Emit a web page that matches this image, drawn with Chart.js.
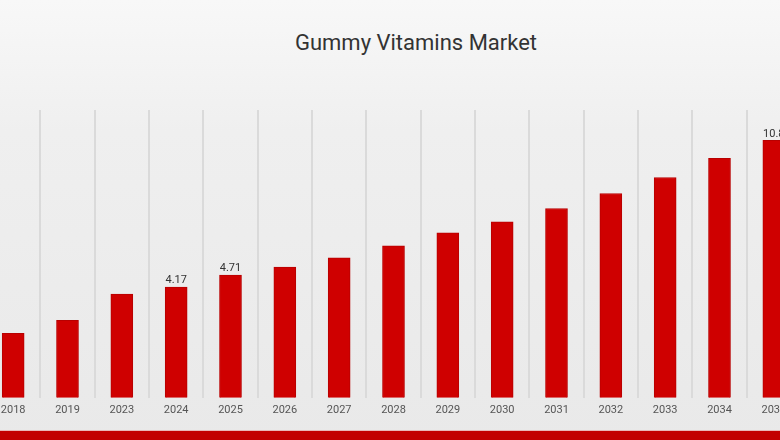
<!DOCTYPE html>
<html>
<head>
<meta charset="utf-8">
<script src="https://cdn.jsdelivr.net/npm/chart.js@4"></script>
<style>
    html, body { margin: 0; padding: 0; }
    body {
        width: 780px; height: 440px; overflow: hidden; position: relative;
        background: linear-gradient(180deg, #f8f8f8 0%, #efefef 30%, #e9e9e9 100%);
        font-family: Roboto, "DejaVu Sans", sans-serif;
    }
    #title {
        position: absolute; left: 0; width: 832px; top: 30px;
        text-align: center; font-size: 22px; color: #333;
    }
    #wrap { position: absolute; left: -14px; top: 0; width: 815px; height: 440px; }
    #bottomBar {
        position: absolute; left: 0; right: 0; bottom: 0; height: 9px;
        background: #c20000; border-top: 1px solid #e8b8b8;
    }
</style>
</head>
<body>
<div id="title">Gummy Vitamins Market</div>
<div id="wrap"><canvas id="marketChart" width="815" height="440"></canvas></div>
<div id="bottomBar"></div>
<script>
const years = ['2018', '2019', '2023', '2024', '2025', '2026', '2027', '2028', '2029', '2030', '2031', '2032', '2033', '2034', '2035'];
const marketSize = [2.08, 2.67, 3.85, 4.17, 4.71, 5.08, 5.49, 6.03, 6.62, 7.12, 7.72, 8.4, 9.12, 9.99, 10.8];
const labeledYears = ['2024', '2025', '2035'];

// draws the value above selected bars
const valueLabels = {
    id: 'valueLabels',
    afterDatasetsDraw(chart) {
        const ctx = chart.ctx;
        const meta = chart.getDatasetMeta(0);
        ctx.save();
        ctx.font = '11px Roboto, sans-serif';
        ctx.fillStyle = '#333';
        ctx.textAlign = 'center';
        ctx.textBaseline = 'bottom';
        meta.data.forEach((bar, i) => {
            if (labeledYears.includes(years[i])) {
                ctx.fillText(marketSize[i].toString(), bar.x, bar.y - 1);
            }
        });
        ctx.restore();
    }
};

const ctx = document.getElementById('marketChart').getContext('2d');
new Chart(ctx, {
    type: 'bar',
    data: {
        labels: years,
        datasets: [{
            label: 'Market Size',
            data: marketSize,
            base: -0.83,
            backgroundColor: '#cf0000',
            borderColor: '#b80000',
            borderWidth: 1,
            barThickness: 22
        }]
    },
    options: {
        responsive: false,
        animation: false,
        layout: { padding: { top: 110, bottom: 17, left: 0, right: 0 } },
        plugins: {
            legend: { display: false },
            tooltip: { enabled: false }
        },
        scales: {
            x: {
                grid: {
                    offset: true,
                    color: '#dadada',
                    lineWidth: 2,
                    drawTicks: false
                },
                border: { display: false },
                ticks: {
                    padding: 6,
                    color: '#555',
                    font: { size: 11, family: 'Roboto' },
                    maxRotation: 0,
                    autoSkip: false
                }
            },
            y: {
                display: false,
                min: -0.83,
                max: 12.17
            }
        }
    },
    plugins: [valueLabels]
});
</script>
</body>
</html>
